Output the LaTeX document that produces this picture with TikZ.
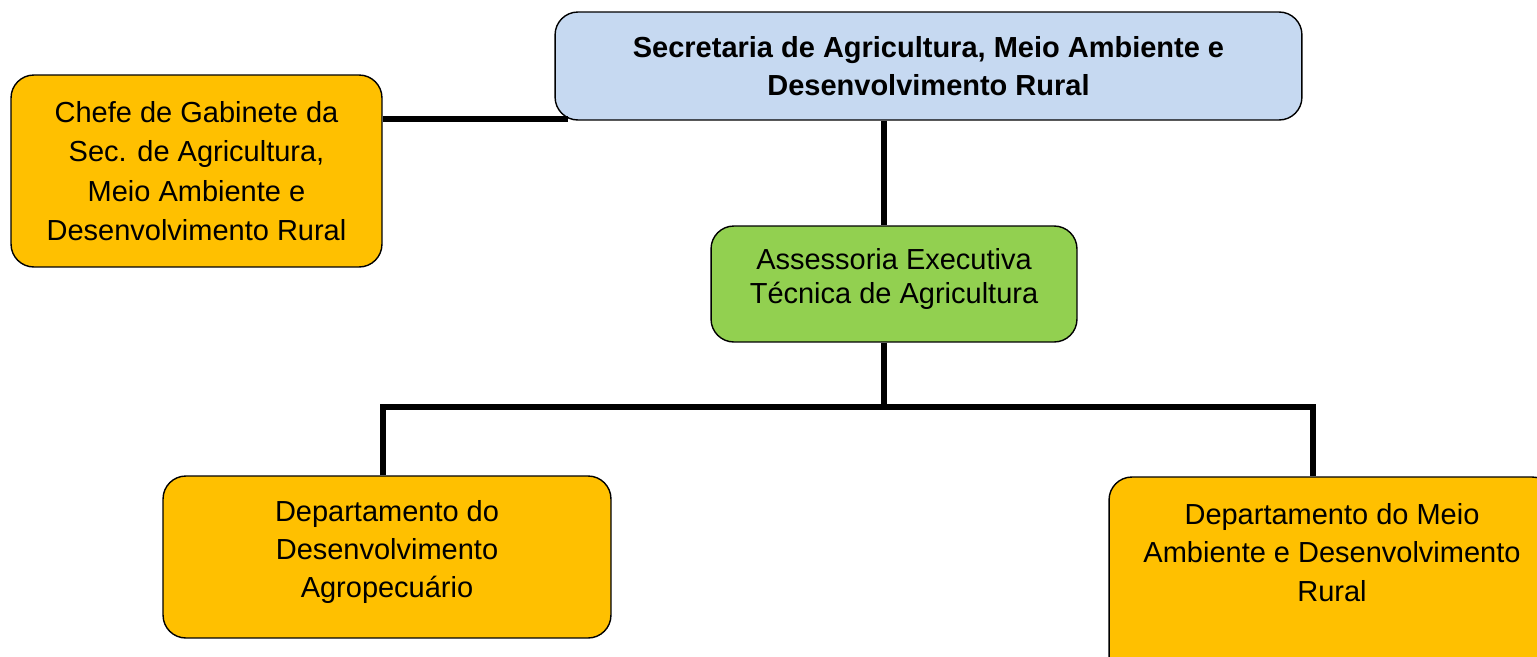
\documentclass[tikz,border=0pt]{standalone}
\usepackage{fontspec}
\setmainfont{Liberation Sans}
\usepackage{xcolor}
\definecolor{boxorange}{HTML}{FFC000}
\definecolor{boxblue}{HTML}{C6D9F1}
\definecolor{boxgreen}{HTML}{92D050}

\begin{document}
\begin{tikzpicture}[x=0.02cm, y=-0.02cm,
    box/.style={draw=black, line width=0.8pt, rounded corners=13pt, align=center,
        font=\fontsize{16.5}{21.8}\selectfont, inner sep=0pt},
    conn/.style={line width=3.4pt, black}]
% Page
\clip (0,0) rectangle (1537,656);

% Boxes
\node[box, fill=boxblue, minimum width=14.94cm, minimum height=2.16cm,
    font=\fontsize{16.5}{21.8}\selectfont\bfseries] (sec) at (928.5,66)
    {Secretaria de Agricultura, Meio Ambiente e\\Desenvolvimento Rural};
\node[box, fill=boxorange, minimum width=7.42cm, minimum height=3.84cm,
    font=\fontsize{16.5}{22.4}\selectfont] (chefe) at (196.5,171)
    {Chefe de Gabinete da\\Sec. de Agricultura,\\Meio Ambiente e\\Desenvolvimento Rural};
\node[box, fill=boxgreen, minimum width=7.32cm, minimum height=2.32cm,
    font=\fontsize{16.5}{19.8}\selectfont, text depth=9pt] (assess) at (894,284)
    {Assessoria Executiva\\Técnica de Agricultura};
\node[box, fill=boxorange, minimum width=8.96cm, minimum height=3.24cm, text depth=9pt] (dep1) at (387,557)
    {Departamento do\\Desenvolvimento\\Agropecuário};
\node[box, fill=boxorange, minimum width=8.92cm, minimum height=4.24cm, text depth=35pt] (dep2) at (1332,583)
    {Departamento do Meio\\Ambiente e Desenvolvimento\\Rural};

% Lines
\coordinate (spine) at (884,407);
\coordinate (bl) at (383,407);
\coordinate (br) at (1313,407);
\draw[conn] (chefe.east |- 0,119) -- (568,119);
\draw[conn] (sec.south -| spine) -- (assess.north -| spine);
\draw[conn] (assess.south -| spine) -- (spine);
\draw[conn] (dep1.north -| bl) -- (bl) -- (br) -- (dep2.north -| br);
\end{tikzpicture}
\end{document}
